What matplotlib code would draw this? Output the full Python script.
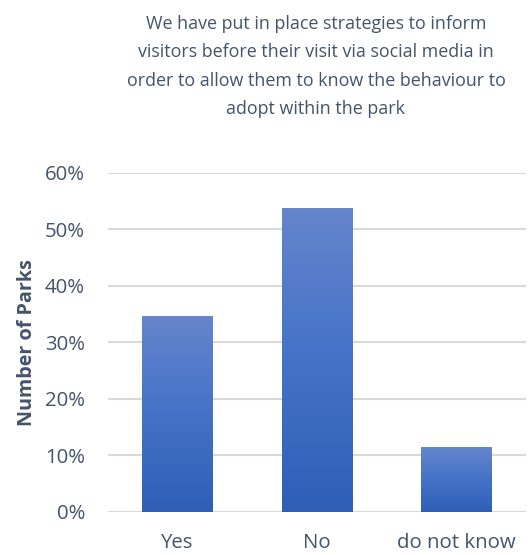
import numpy as np
import matplotlib.pyplot as plt
from matplotlib.colors import LinearSegmentedColormap
from matplotlib.ticker import PercentFormatter

# Survey answers: share of parks per response
answers = ["Yes", "No", "do not know"]
shares = [34.6, 53.8, 11.5]

title = ("We have put in place strategies to inform\n"
         "visitors before their visit via social media in\n"
         "order to allow them to know the behaviour to\n"
         "adopt within the park")

plt.rcParams["font.family"] = ["Open Sans", "DejaVu Sans"]
ink = "#44546A"

fig = plt.figure(figsize=(5.31, 5.55), dpi=100)
ax = fig.add_axes([108 / 531, 1 - 511.7 / 555, 418 / 531, (511.7 - 172.7) / 555])

x = np.arange(len(answers))
bars = ax.bar(x, shares, width=0.505, color="none", zorder=3)

# vertical gradient fill, lighter at the top
cmap = LinearSegmentedColormap.from_list("blues", ["#2E5EB6", "#4472C8", "#6585CC"])
grad = np.linspace(0, 1, 256).reshape(-1, 1)
for b in bars:
    x0, y0 = b.get_x(), b.get_y()
    im = ax.imshow(grad, cmap=cmap, origin="lower", aspect="auto",
                   extent=[x0, x0 + b.get_width(), y0, y0 + b.get_height()],
                   zorder=3)
    im.set_clip_path(b)

ax.set_xlim(-0.5, len(answers) - 0.5)
ax.set_ylim(0, 60)
ax.set_yticks(np.arange(0, 61, 10))
ax.yaxis.set_major_formatter(PercentFormatter(decimals=0))
ax.set_xticks(x)
ax.set_xticklabels(answers)

ax.grid(axis="y", color="#D9D9D9", linewidth=1.5, zorder=0)
ax.set_axisbelow(True)
for s in ax.spines.values():
    s.set_visible(False)
ax.tick_params(length=0, labelsize=14.7, colors=ink)
ax.tick_params(axis="x", pad=15)
ax.tick_params(axis="y", pad=16.5)

ax.set_ylabel("Number of Parks", fontsize=14.2, fontweight="bold", color=ink, labelpad=6)

fig.text(316 / 531, 1 - 15 / 555, title, ha="center", va="top",
         fontsize=12.9, color=ink, linespacing=1.74)

fig.savefig("out.png", dpi=100)
